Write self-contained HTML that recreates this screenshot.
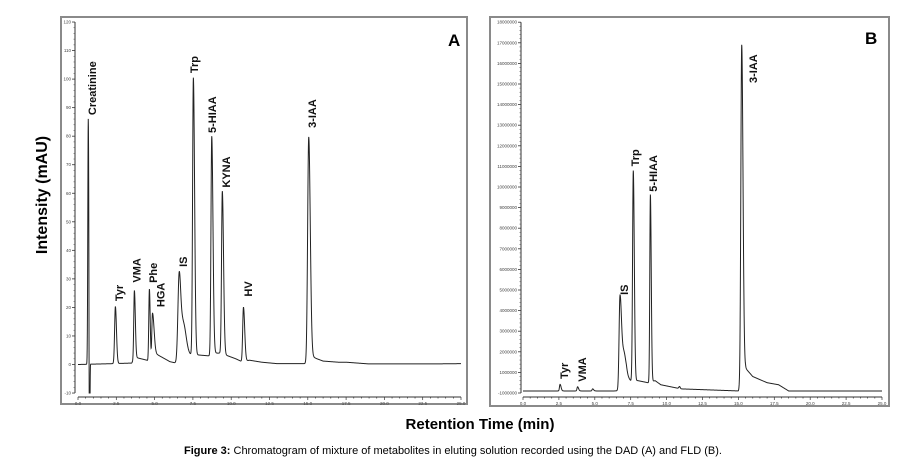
<!DOCTYPE html>
<html><head><meta charset="utf-8"><style>
html,body{margin:0;padding:0;background:#fff;}
svg{display:block;font-family:"Liberation Sans",sans-serif;}
</style></head><body>
<svg id="fig" width="907" height="465" viewBox="0 0 907 465">
<rect x="61" y="17" width="406" height="387" fill="#fff" stroke="#8a8a8a" stroke-width="2"/>
<rect x="490" y="17" width="399" height="389" fill="#fff" stroke="#8a8a8a" stroke-width="2"/>
<g id="ga"></g>
<g id="gb"></g>
<text x="448" y="46" font-size="17" font-weight="bold">A</text>
<text x="865" y="44" font-size="17" font-weight="bold">B</text>
<text transform="translate(47,195) rotate(-90)" text-anchor="middle" font-size="16" font-weight="bold">Intensity (mAU)</text>
<text x="480" y="429" text-anchor="middle" font-size="15" font-weight="bold">Retention Time (min)</text>
<text x="453" y="454" text-anchor="middle" font-size="11"><tspan font-weight="bold">Figure 3:</tspan> Chromatogram of mixture of metabolites in eluting solution recorded using the DAD (A) and FLD (B).</text>
</svg>
<script>
// ---- Panel A data (DAD, mAU) ----
const xTicks = [0,2.5,5,7.5,10,12.5,15,17.5,20,22.5,25];
const xTickLabels = ["0.0","2.5","5.0","7.5","10.0","12.5","15.0","17.5","20.0","22.5","25.0"];
const aYTicks = [-10,0,10,20,30,40,50,60,70,80,90,100,110,120];
const aPeakNames = ["Creatinine","dip","Tyr","VMA","Phe","HGA","IS","IS-shoulder","Trp","5-HIAA","KYNA","HV","3-IAA"];
const aPeakTimes = [0.67,0.75,2.44,3.68,4.66,4.86,6.6,6.85,7.53,8.73,9.42,10.8,15.06];
const aPeakHeights = [86,-98,20,24,25,15,28,13,97,76,57,19,78];
const aPeakWL = [0.03,0.02,0.05,0.04,0.04,0.04,0.08,0.15,0.05,0.05,0.05,0.05,0.07];
const aPeakWR = [0.04,0.02,0.07,0.06,0.05,0.1,0.1,0.2,0.08,0.08,0.08,0.08,0.1];
const aBaseT = [0,2.3,3.5,3.75,4.5,4.6,5.0,6.0,6.4,7.3,7.5,8.6,8.7,9.3,10.3,10.7,11.2,12,13,14.9,15.2,15.6,16,17,17.5,19,23,25];
const aBaseV = [0,0.3,0.5,2.5,1.5,1,4,1,0.5,3,3.5,3,4,4,2,1,1.5,0.8,0.3,0.3,3,2,1.2,0.8,0.8,0.2,0.2,0.3];
const aLabels = ["Creatinine","Tyr","VMA","Phe","HGA","IS","Trp","5-HIAA","KYNA","HV","3-IAA"];
const aLabelT = [1.16,2.94,4.09,5.16,5.66,7.1,7.83,9.0,9.92,11.36,15.52];
const aLabelV = [87.4,22.2,28.7,28.6,20.1,34.2,102.1,81.1,62.0,23.8,82.9];

// ---- Panel B data (FLD, millions) ----
const bYTicks = [0,1,2,3,4,5,6,7,8,9,10,11,12,13,14,15,16,17,18];
const bYTickLabels = ["-1000000","1000000","2000000","3000000","4000000","5000000","6000000","7000000","8000000","9000000","10000000","11000000","12000000","13000000","14000000","15000000","16000000","17000000","18000000"];
const bPeakTimes = [2.58,3.8,4.85,6.75,7.0,7.68,8.87,10.9,15.23];
const bPeakHeights = [0.32,0.2,0.1,4.1,1.4,10.2,9.1,0.1,16.3];
const bPeakWL = [0.04,0.04,0.04,0.06,0.15,0.05,0.04,0.05,0.06];
const bPeakWR = [0.07,0.07,0.07,0.1,0.15,0.07,0.06,0.05,0.09];
const bBaseT = [0,6.6,7.2,7.5,8.0,8.7,9.2,9.6,11,15,15.5,16,17,17.8,18.5,25];
const bBaseV = [0.1,0.1,0.8,0.6,0.6,0.5,0.6,0.4,0.2,0.1,1.2,0.8,0.5,0.4,0.1,0.1];
const bLabels = ["Tyr","VMA","IS","Trp","5-HIAA","3-IAA"];
const bLabelT = [3.13,4.37,7.31,8.08,9.33,16.3];
const bLabelV = [0.68,0.55,4.76,11.0,9.77,15.05];

const NS="http://www.w3.org/2000/svg";
function mk(tag,attrs,parent){const e=document.createElementNS(NS,tag);for(const k in attrs)e.setAttribute(k,attrs[k]);parent.appendChild(e);return e;}
function interp(ts,vs,t){if(t<=ts[0])return vs[0];for(let i=1;i<ts.length;i++){if(t<=ts[i]){const f=(t-ts[i-1])/(ts[i]-ts[i-1]);return vs[i-1]+f*(vs[i]-vs[i-1]);}}return vs[vs.length-1];}
function signal(t,pt,ph,wl,wr,bt,bv){let v=interp(bt,bv,t);for(let i=0;i<pt.length;i++){const d=t-pt[i];const s=d<0?wl[i]:wr[i];v+=ph[i]*Math.exp(-0.5*(d/s)*(d/s));}return v;}

function drawPanel(g,cfg){
  const xs=t=>cfg.x0+(t-0)/25*(cfg.x1-cfg.x0);
  const ys=v=>cfg.yZero-(v-cfg.vZero)*cfg.pxPer;
  const yTop=ys(cfg.yTicks[cfg.yTicks.length-1]), yBot=ys(cfg.yTicks[0]);
  let ax=mk('line',{x1:cfg.axX,x2:cfg.axX,y1:yTop,y2:yBot,stroke:'#333','stroke-width':1},g);
  
  
  let bx=mk('line',{x1:xs(0),x2:xs(25),y1:yBot+4,y2:yBot+4,stroke:'#333','stroke-width':1},g);
  
  
  cfg.yTicks.forEach((v,i)=>{
    const y=ys(v);
    const tk=mk('line',{x1:cfg.axX-3,x2:cfg.axX,y1:y,y2:y,stroke:'#333','stroke-width':0.8},g);
    
    
    const tx=mk('text',{x:cfg.axX-4,y:y+1.5,'font-size':4.5,'text-anchor':'end',fill:'#444'},g);
    tx.textContent=cfg.yLabels[i];
    
    
    if(i<cfg.yTicks.length-1){for(let k=1;k<5;k++){const ym=y-(ys(v)-ys(cfg.yTicks[i+1]))*k/5;mk('line',{x1:cfg.axX-1.5,x2:cfg.axX,y1:ym,y2:ym,stroke:'#555','stroke-width':0.6},g);}}
  });
  for(let t=0;t<=25.001;t+=0.5){const x=xs(t);mk('line',{x1:x,x2:x,y1:yBot+4,y2:yBot+(Math.abs(t/2.5-Math.round(t/2.5))<1e-6?7:5.5),stroke:'#333','stroke-width':0.7},g);}
  xTicks.forEach((t,i)=>{
    const tx=mk('text',{x:xs(t),y:yBot+12,'font-size':4.5,'text-anchor':'middle',fill:'#444'},g);
    tx.textContent=xTickLabels[i];
    
    
  });
  let d='';
  for(let t=0;t<=25.0001;t+=0.01){const v=signal(t,cfg.pt,cfg.ph,cfg.wl,cfg.wr,cfg.bt,cfg.bv);d+=(d?'L':'M')+xs(t).toFixed(2)+' '+Math.min(yBot,ys(v)).toFixed(2);}
  const p=mk('path',{d:d,fill:'none',stroke:'#222','stroke-width':1},g);
  
  
  cfg.labels.forEach((s,i)=>{
    const x=xs(cfg.lt[i]),y=ys(cfg.lv[i]);
    const tx=mk('text',{transform:`translate(${x.toFixed(1)},${y.toFixed(1)}) rotate(-90)`,'font-size':11,'font-weight':'bold',fill:'#111'},g);
    tx.textContent=s;
    
    
  });
}
drawPanel(document.getElementById('ga'),{x0:78,x1:461,axX:75,yZero:364.5,vZero:0,pxPer:2.854,
  yTicks:aYTicks,yLabels:aYTicks.map(String),pt:aPeakTimes,ph:aPeakHeights,wl:aPeakWL,wr:aPeakWR,bt:aBaseT,bv:aBaseV,
  labels:aLabels,lt:aLabelT,lv:aLabelV});
drawPanel(document.getElementById('gb'),{x0:523,x1:882,axX:521,yZero:393,vZero:0,pxPer:20.6,
  yTicks:bYTicks,yLabels:bYTickLabels,pt:bPeakTimes,ph:bPeakHeights,wl:bPeakWL,wr:bPeakWR,bt:bBaseT,bv:bBaseV,
  labels:bLabels,lt:bLabelT,lv:bLabelV});
</script>
</body></html>
